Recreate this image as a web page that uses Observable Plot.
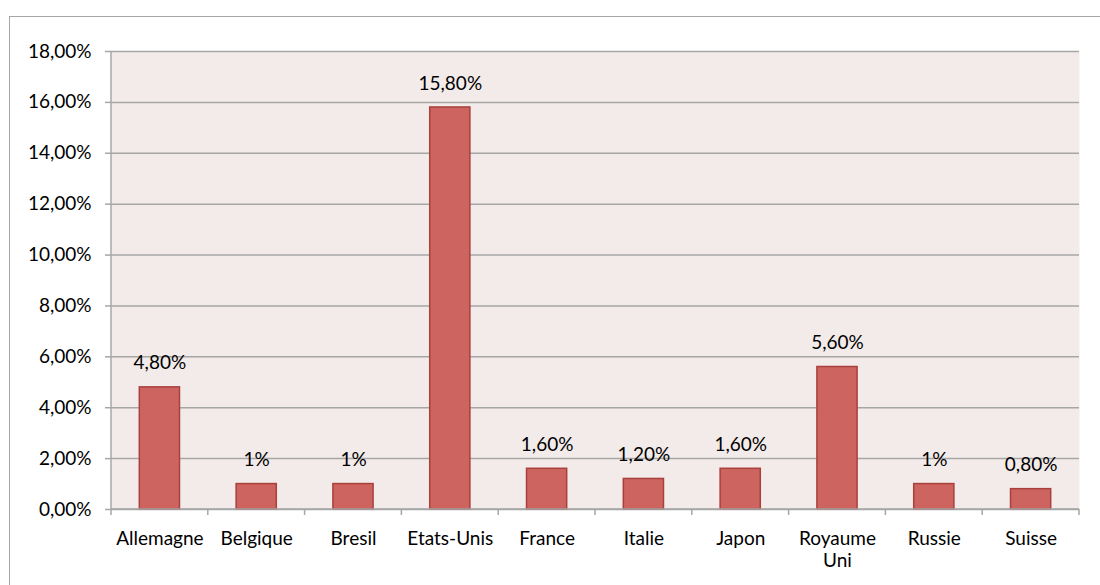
<!DOCTYPE html>
<html>
<head>
<meta charset="utf-8">
<script src="https://cdn.jsdelivr.net/npm/d3@7"></script>
<script src="https://cdn.jsdelivr.net/npm/@observablehq/plot@0.6"></script>
<style>
  html, body { margin: 0; padding: 0; background: #fff; overflow: hidden; }
  #wrap { position: relative; width: 1100px; height: 585px; overflow: hidden; }
  #border { position: absolute; left: 9px; top: 16px; width: 1200px; height: 700px; border: 1.5px solid #a6a6a6; box-sizing: border-box; pointer-events: none; }
  #chart { position: absolute; left: 0; top: 0; }
  svg { font-family: Lato, "Open Sans", sans-serif; }
</style>
</head>
<body>
<div id="wrap"><div id="chart"></div><div id="border"></div></div>
<script>
const countries = ["Allemagne", "Belgique", "Bresil", "Etats-Unis", "France", "Italie", "Japon", "Royaume Uni", "Russie", "Suisse"];
const values = [4.8, 1, 1, 15.8, 1.6, 1.2, 1.6, 5.6, 1, 0.8];
const yTicks = [0, 2, 4, 6, 8, 10, 12, 14, 16, 18];

const data = countries.map((c, i) => ({country: c, value: values[i]}));
const fmtTick = d => d.toFixed(2).replace(".", ",") + "%";
const fmtLabel = d => Number.isInteger(d) ? d + "%" : d.toFixed(2).replace(".", ",") + "%";

const PI = 0.585, PO = 0.2925;
const GRID = "#a6a6a6";

// category boundary ticks + baseline + left axis line, positioned from the band scale
function axisLines(index, scales, values, dims) {
  const x = scales.x;
  const doms = x.domain ? x.domain() : countries;
  const step = x(doms[1]) - x(doms[0]);
  const bw = typeof x.bandwidth === "function" ? x.bandwidth() : x.bandwidth;
  const gap = (step - bw) / 2;
  const y0 = dims.height - dims.marginBottom;
  const bounds = doms.map(d => x(d) - gap);
  bounds.push(x(doms[doms.length - 1]) + bw + gap);
  const g = d3.create("svg:g").attr("stroke", GRID).attr("stroke-width", 1.5);
  for (const b of bounds) {
    g.append("line").attr("x1", b).attr("x2", b).attr("y1", y0).attr("y2", y0 + 6);
  }
  g.append("line").attr("x1", bounds[0]).attr("x2", bounds[bounds.length - 1]).attr("y1", y0).attr("y2", y0);
  g.append("line").attr("x1", bounds[0]).attr("x2", bounds[0]).attr("y1", dims.marginTop).attr("y2", y0);
  return g.node();
}

const xFmt = d => d === "Royaume Uni" ? "Royaume\nUni" : d;

const chart = Plot.plot({
  width: 1100,
  height: 585,
  marginLeft: 111,
  marginTop: 51,
  marginRight: 21,
  marginBottom: 76,
  style: {fontFamily: "Lato, 'Open Sans', sans-serif", fontSize: "19px", color: "#000", background: "transparent"},
  x: {domain: countries, paddingInner: PI, paddingOuter: PO, round: false, label: null},
  y: {domain: [0, 18], label: null},
  marks: [
    Plot.frame({fill: "#f3ebea", stroke: null}),
    Plot.gridY(yTicks, {stroke: GRID, strokeWidth: 1.5, strokeOpacity: 1}),
    Plot.axisY({ticks: yTicks, tickFormat: fmtTick, tickSize: 6, tickPadding: 14, stroke: GRID, strokeWidth: 1.5, strokeOpacity: 1, fontSize: 19, label: null}),
    Plot.barY(data, {x: "country", y: "value", fill: "#cd645f", stroke: "#a8403c", strokeWidth: 1.5}),
    Plot.text(data, {x: "country", y: "value", text: d => fmtLabel(d.value), dy: -24, fontSize: 19, fill: "#000"}),
    axisLines,
    Plot.axisX({tickSize: 0, tickPadding: 19, fontSize: 19, lineHeight: 1.2, label: null, tickFormat: xFmt})
  ]
});
document.getElementById("chart").append(chart);
</script>
</body>
</html>
